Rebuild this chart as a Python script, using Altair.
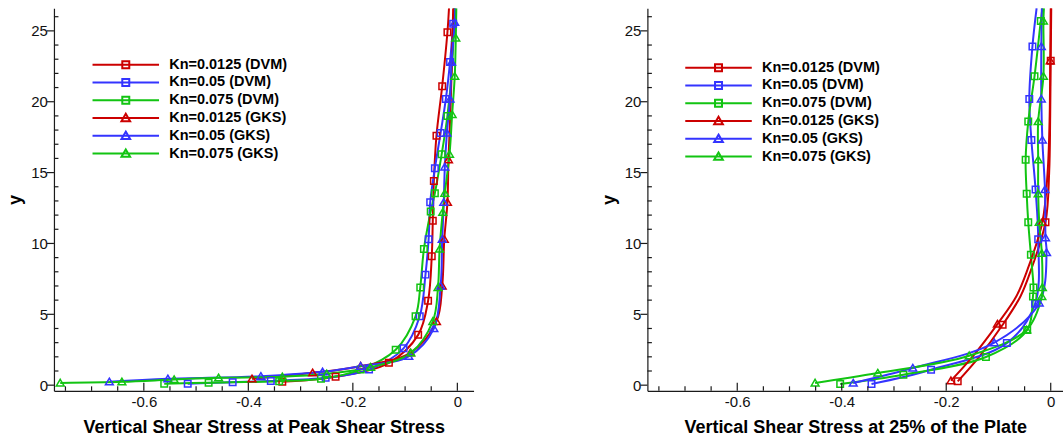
import altair as alt
import pandas as pd

# ---------------- data ----------------
SERIES = ["Kn=0.0125 (DVM)", "Kn=0.05 (DVM)", "Kn=0.075 (DVM)",
          "Kn=0.0125 (GKS)", "Kn=0.05 (GKS)", "Kn=0.075 (GKS)"]
COLORS = ["#cc0000", "#3434ff", "#12c412", "#cc0000", "#3434ff", "#12c412"]

Y_DOMAIN = [-0.4, 26.6]
X_DOMAIN_LEFT = [-0.772, 0.031]
X_DOMAIN_RIGHT = [-0.772, 0.0235]
X_LABELS = [-0.6, -0.4, -0.2, 0.0]
X_MINOR = [-0.75, -0.7, -0.65, -0.55, -0.5, -0.45, -0.35, -0.3, -0.25, -0.15, -0.1, -0.05]
Y_LABELS = [0, 5, 10, 15, 20, 25]
Y_MINOR = [1, 2, 3, 4, 6, 7, 8, 9, 11, 12, 13, 14, 16, 17, 18, 19, 21, 22, 23, 24, 26]

# ---- left panel: peak shear stress (markers) ----
L_R_DVM_Y = [0.24, 0.59, 1.58, 3.55, 5.95, 9.1, 11.6, 14.4, 17.6, 21.1, 24.9]
L_R_DVM_X = [-0.335, -0.233, -0.131, -0.075, -0.056, -0.049, -0.047, -0.045, -0.040, -0.029, -0.019]
L_B_DVM_Y = [0.10, 0.21, 0.30, 0.52, 1.10, 2.60, 4.86, 7.8, 10.3, 12.9, 15.3, 17.8, 20.2, 22.8, 25.5]
L_B_DVM_X = [-0.516, -0.430, -0.357, -0.252, -0.169, -0.103, -0.072, -0.061, -0.055, -0.052, -0.043, -0.032, -0.022, -0.014, -0.008]
L_G_DVM_Y = [0.10, 0.17, 0.28, 0.45, 1.10, 2.50, 4.86, 6.9, 9.6, 12.25, 13.55, 16.3, 19.0]
L_G_DVM_X = [-0.561, -0.476, -0.341, -0.261, -0.185, -0.118, -0.080, -0.071, -0.064, -0.051, -0.043, -0.030, -0.019]
L_R_GKS_Y = [0.45, 0.87, 1.34, 2.28, 4.5, 7.0, 10.3, 12.9, 15.9]
L_R_GKS_X = [-0.393, -0.277, -0.185, -0.090, -0.040, -0.029, -0.025, -0.019, -0.017]
L_B_GKS_Y = [0.24, 0.45, 0.63, 0.94, 1.34, 2.04, 4.0, 7.0, 10.3, 12.9, 15.4, 17.8, 20.2, 22.8, 25.6]
L_B_GKS_X = [-0.666, -0.554, -0.376, -0.258, -0.185, -0.093, -0.045, -0.032, -0.029, -0.026, -0.024, -0.020, -0.014, -0.011, -0.005]
L_G_GKS_Y = [0.16, 0.24, 0.40, 0.52, 0.59, 0.80, 1.27, 2.28, 4.5, 6.9, 9.6, 12.2, 13.55, 16.3, 19.1, 21.8, 24.5]
L_G_GKS_X = [-0.760, -0.642, -0.542, -0.457, -0.335, -0.250, -0.166, -0.089, -0.047, -0.037, -0.034, -0.028, -0.024, -0.015, -0.010, -0.005, -0.003]
# extra curve points (no marker) at the top of each left curve
L_EXTRA_Y = [[26.6], [26.6], [22.5, 26.6], [19.5, 26.6], [26.6], [26.6]]
L_EXTRA_X = [[-0.016], [-0.006], [-0.010, -0.006], [-0.013, -0.008], [-0.004], [-0.002]]

# ---- right panel: 25% of the plate (markers) ----
R_R_DVM_Y = [0.27, 4.26, 11.5, 22.9]
R_R_DVM_X = [-0.178, -0.092, -0.010, 0.0]
R_B_DVM_Y = [0.08, 1.09, 2.97, 5.74, 10.3, 13.8, 17.3, 20.2, 23.9]
R_B_DVM_X = [-0.343, -0.229, -0.084, -0.030, -0.024, -0.029, -0.037, -0.041, -0.035]
R_G_DVM_Y = [0.08, 0.74, 1.99, 3.9, 6.26, 6.9, 9.2, 11.5, 13.5, 15.9, 18.6, 21.8, 25.7]
R_G_DVM_X = [-0.403, -0.282, -0.124, -0.045, -0.034, -0.033, -0.038, -0.043, -0.046, -0.048, -0.043, -0.031, -0.019]
R_R_GKS_Y = [0.32, 4.31, 11.5, 22.9]
R_R_GKS_X = [-0.191, -0.102, -0.016, -0.001]
R_B_GKS_Y = [0.15, 1.21, 3.0, 5.8, 9.36, 10.4, 13.8, 17.3, 20.2, 23.9]
R_B_GKS_X = [-0.378, -0.264, -0.108, -0.022, -0.008, -0.010, -0.011, -0.016, -0.018, -0.018]
R_G_GKS_Y = [0.16, 0.86, 2.08, 3.91, 6.26, 6.9, 9.3, 11.5, 13.5, 15.9, 18.6, 21.8, 25.7]
R_G_GKS_X = [-0.451, -0.331, -0.156, -0.046, -0.017, -0.016, -0.017, -0.022, -0.024, -0.024, -0.024, -0.014, -0.014]
# extra curve points (no marker)
R_EXTRA_Y = [[2.0, 6.26, 8.1, 15.0, 19.0, 26.6], [26.6], [26.6],
             [2.0, 6.26, 8.1, 15.0, 19.0, 26.6], [26.6], [26.6]]
R_EXTRA_X = [[-0.137, -0.058, -0.038, -0.003, -0.001, 0.001], [-0.027], [-0.016],
             [-0.150, -0.066, -0.045, -0.006, -0.002, 0.0], [-0.017], [-0.013]]

X_TITLE_LEFT = "Vertical Shear Stress at Peak Shear Stress"
X_TITLE_RIGHT = "Vertical Shear Stress at 25% of the Plate"

# marker and legend symbol shapes (unit paths)
MK_SQ = "M-0.65,-0.65H0.65V0.65H-0.65Z"
MK_TRI = "M0,-0.72L0.78,0.6H-0.78Z"
LG_SQ = "M-4,0H4M-0.42,-0.42H0.42V0.42H-0.42Z"
LG_TRI = "M-4,0H4M0,-0.5L0.52,0.38H-0.52Z"
MARKER_SHAPES = [MK_SQ, MK_SQ, MK_SQ, MK_TRI, MK_TRI, MK_TRI]
LEGEND_SHAPES = [LG_SQ, LG_SQ, LG_SQ, LG_TRI, LG_TRI, LG_TRI]

FONT = "Liberation Sans"
AXIS_COLOR = "#1a1a1a"
PANEL_H = 383


def build_frames(ys, xs, extra_y, extra_x):
    mk, ln = [], []
    for s, yy, xx, ey, ex in zip(SERIES, ys, xs, extra_y, extra_x):
        for a, b in zip(yy, xx):
            mk.append({"series": s, "y": a, "x": b})
            ln.append({"series": s, "y": a, "x": b})
        for a, b in zip(ey, ex):
            ln.append({"series": s, "y": a, "x": b})
    return pd.DataFrame(mk), pd.DataFrame(ln)


def make_panel(ys, xs, ey, ex, xdomain, width, xtitle, lx, ly):
    mk_df, ln_df = build_frames(ys, xs, ey, ex)
    xscale = alt.Scale(domain=xdomain, nice=False, zero=False)
    yscale = alt.Scale(domain=Y_DOMAIN, nice=False, zero=False)
    cscale = alt.Scale(domain=SERIES, range=COLORS)
    x_axis = alt.Axis(values=X_LABELS, title=xtitle, ticks=False, grid=False,
                      labelExpr="datum.value == 0 ? '0' : '-' + format(abs(datum.value), '.1f')",
                      labelPadding=4, titlePadding=9, labelFlush=False)
    y_axis = alt.Axis(values=Y_LABELS, title="y", ticks=False, grid=False,
                      labelPadding=6.5, titlePadding=6)
    X = alt.X("x:Q", scale=xscale, axis=x_axis)
    Y = alt.Y("y:Q", scale=yscale, axis=y_axis)

    lines = alt.Chart(ln_df).mark_line(strokeWidth=2, interpolate="catmull-rom", clip=True).encode(
        x=X, y=Y,
        color=alt.Color("series:N", scale=cscale, legend=None),
        detail="series:N",
        order=alt.Order("y:Q"),
    )
    markers = alt.Chart(mk_df).mark_point(filled=False, strokeWidth=1.5, size=100, opacity=1).encode(
        x=X, y=Y,
        color=alt.Color("series:N", scale=cscale, legend=None),
        shape=alt.Shape("series:N", scale=alt.Scale(domain=SERIES, range=MARKER_SHAPES), legend=None),
    )
    leg = alt.Legend(title=None, orient="none", legendX=lx, legendY=ly, padding=0,
                     symbolSize=277, symbolStrokeWidth=2, symbolFillColor="transparent",
                     symbolOpacity=1, labelFont=FONT, labelFontSize=14.5, labelFontWeight="bold",
                     labelColor="#000000", labelOffset=34, rowPadding=0.8, labelLimit=300)
    carrier = alt.Chart(mk_df).mark_point(filled=False, opacity=0).encode(
        x=X, y=Y,
        color=alt.Color("series:N", scale=cscale, legend=leg),
        shape=alt.Shape("series:N", scale=alt.Scale(domain=SERIES, range=LEGEND_SHAPES), legend=leg),
    )
    xt_major = alt.Chart(pd.DataFrame({"x": X_LABELS})).mark_rule(color=AXIS_COLOR, strokeWidth=1.2).encode(
        x=X, y=alt.value(PANEL_H), y2=alt.value(PANEL_H - 8))
    xt_minor = alt.Chart(pd.DataFrame({"x": X_MINOR})).mark_rule(color=AXIS_COLOR, strokeWidth=1.2).encode(
        x=X, y=alt.value(PANEL_H), y2=alt.value(PANEL_H - 4.5))
    yt_major = alt.Chart(pd.DataFrame({"y": Y_LABELS})).mark_rule(color=AXIS_COLOR, strokeWidth=1.2).encode(
        y=Y, x=alt.value(0), x2=alt.value(-7))
    yt_minor = alt.Chart(pd.DataFrame({"y": Y_MINOR})).mark_rule(color=AXIS_COLOR, strokeWidth=1.2).encode(
        y=Y, x=alt.value(0), x2=alt.value(4.5))

    return alt.layer(lines, markers, carrier, xt_major, xt_minor, yt_major, yt_minor).resolve_scale(
        color="independent", shape="independent"
    ).properties(width=width, height=PANEL_H)


left = make_panel([L_R_DVM_Y, L_B_DVM_Y, L_G_DVM_Y, L_R_GKS_Y, L_B_GKS_Y, L_G_GKS_Y],
                  [L_R_DVM_X, L_B_DVM_X, L_G_DVM_X, L_R_GKS_X, L_B_GKS_X, L_G_GKS_X],
                  L_EXTRA_Y, L_EXTRA_X, X_DOMAIN_LEFT, 420, X_TITLE_LEFT, 62.4, 47)
right = make_panel([R_R_DVM_Y, R_B_DVM_Y, R_G_DVM_Y, R_R_GKS_Y, R_B_GKS_Y, R_G_GKS_Y],
                   [R_R_DVM_X, R_B_DVM_X, R_G_DVM_X, R_R_GKS_X, R_B_GKS_X, R_G_GKS_X],
                   R_EXTRA_Y, R_EXTRA_X, X_DOMAIN_RIGHT, 416, X_TITLE_RIGHT, 61.7, 50)

chart = alt.hconcat(left, right, spacing=126).resolve_scale(
    color="independent", shape="independent"
).resolve_legend(color="independent", shape="independent").properties(
    padding={"left": 6, "top": 8, "right": 0, "bottom": 0}
).configure_view(strokeWidth=0).configure_axis(
    domainColor=AXIS_COLOR, domainWidth=1.2,
    labelFont=FONT, labelFontSize=15, labelColor="#111111",
    titleFont=FONT, titleFontSize=18, titleFontWeight="bold", titleColor="#000000",
)

chart.save("out.html", embed_options={"renderer": "svg", "actions": False})
